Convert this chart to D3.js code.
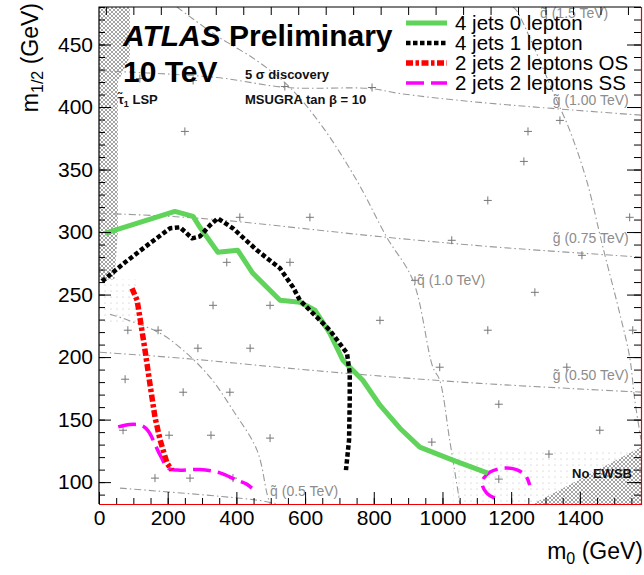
<!DOCTYPE html>
<html>
<head>
<meta charset="utf-8">
<script src="https://cdn.jsdelivr.net/npm/d3@7/dist/d3.min.js"></script>
<style>
  body { margin: 0; background: #fff; }
  svg { display: block; font-family: "Liberation Sans", Arial, sans-serif; }
  .grey-label { fill: #8c8c8c; font-size: 14px; }
  .note { font-weight: bold; font-size: 13px; fill: #111; }
</style>
</head>
<body>
<svg id="chart" width="644" height="575"></svg>
<script>
// all points are [m0, m1/2] in GeV
const jets4Lep0 = [
  [17, 299], [221, 316.5], [274, 312.6], [294, 303.8], [346, 283.8], [404, 285.4],
  [448, 267], [527, 245.4], [585, 243.8], [629, 237.4], [672, 219.1], [710, 197.5],
  [768, 181.5], [818, 161.5], [876, 143.1], [934, 128], [1030, 117.6], [1132, 107.2]
];
const jets4Lep1 = [
  [9, 260.6], [76, 275.8], [148, 291], [207, 303], [236, 303.8], [271, 295], [294, 296.6],
  [323, 305.4], [346, 311], [390, 303], [460, 285.4], [527, 271], [565, 255.8], [585, 245.4],
  [623, 235], [672, 221.5], [722, 203.1], [730, 187.1], [730, 165.5], [728, 133.6], [719, 109.6]
];
const jets2Lep2OS = [
  [96, 255], [111, 245.4], [119, 231.8], [134, 205.5], [148, 179.1], [163, 151.9],
  [178, 133.6], [198, 115.2], [212, 109.6]
];
const jets2Lep2SS = [
  [56, 144.2], [90, 146.1], [124, 145.3], [143, 141], [178, 121.6], [202, 110.9],
  [230, 109.6], [294, 110.1], [352, 107.4], [401, 101.6], [430, 98.4], [445, 95.2]
];
const jets2Lep2SSisland = [
  [1152, 87.2], [1129, 91.2], [1115, 100], [1138, 108], [1182, 111.2], [1219, 109.6],
  [1243, 104.8], [1254, 97.6]
];

// squark / gluino iso-mass contours
const squark05 = [[32, 234.3], [70, 231], [178, 219], [245, 205.5], [323, 184], [390, 157.5], [460, 125.6], [489, 91], [498, 82.5]];
const squark10 = [[227, 480], [337, 458], [460, 437], [556, 415.6], [652, 383.7], [751, 341], [838, 295.8], [914, 261.4], [972, 191.9], [992, 181.5], [1021, 133.6], [1051, 82.5]];
const squark15 = [[1205, 480], [1216, 477], [1333, 405], [1371, 381], [1420, 341], [1467, 288], [1516, 235], [1545, 200], [1560, 165.5], [1578, 134]];
const gluino100 = [[3, 429], [343, 423.6], [547, 415.6], [789, 414.8], [876, 410.8], [1109, 403.7], [1578, 393.5]];
const gluino075 = [[3, 315], [294, 311], [838, 295.8], [1164, 287.8], [1578, 280]];
const gluino050 = [[3, 203.9], [245, 199], [556, 191], [722, 187], [1109, 179], [1578, 172]];
const gluino025 = [[61, 95.2], [460, 85.6], [520, 82.5]];
const contours = [squark05, squark10, squark15, gluino100, gluino075, gluino050, gluino025];

const contourLabels = [
  { text: "q\u0303 (0.5 TeV)", at: [498, 88.8] },
  { text: "q\u0303 (1.0 TeV)", at: [926, 257.4] },
  { text: "q\u0303 (1.5 TeV)", at: [1284, 471.6] },
  { text: "g\u0303 (1.00 TeV)", at: [1321, 401.3] },
  { text: "g\u0303 (0.75 TeV)", at: [1321, 291] },
  { text: "g\u0303 (0.50 TeV)", at: [1321, 181.5] }
];

// scan points
const scanPoints = [
  [119, 422.8], [274, 421.2], [541, 416.4], [795, 415.6], [250, 380.5], [1249, 380.5],
  [1342, 389.3], [1237, 356.5], [1132, 325.3], [1545, 311.8], [1406, 281.4], [1269, 251.8],
  [1132, 221.5], [1554, 221.5], [1362, 191.9], [410, 311.8], [614, 311.8], [1027, 293.4],
  [372, 275.8], [556, 275.8], [332, 241.4], [498, 241.4], [818, 229.4], [920, 261.4],
  [440, 207.1], [992, 191.9], [84, 221.5], [172, 221.5], [288, 207.1], [76, 182.3],
  [245, 171.9], [381, 171.9], [70, 141.5], [204, 137.5], [326, 137.5], [498, 135.2],
  [163, 103.2], [265, 103.2], [390, 103.2], [1164, 162.3], [969, 132], [1458, 141.5],
  [1310, 122.4], [1164, 102.4]
];

const stauLSP = [[0, 480], [90, 480], [90, 440], [55, 420], [55, 300], [45, 262], [0, 262]];
const noEWSB = [[1263, 82.5], [1578, 82.5], [1578, 128]];
const dotsLeft = [[0, 262], [110, 262], [110, 228], [0, 228]];
const dotsRight = [[1030, 82.5], [1578, 82.5], [1578, 126], [1030, 126]];

const xMajor = [0, 200, 400, 600, 800, 1000, 1200, 1400];
const yMajor = [100, 150, 200, 250, 300, 350, 400, 450];

const legendItems = [
  { label: "4 jets 0 lepton", key: "l0" },
  { label: "4 jets 1 lepton", key: "l1" },
  { label: "2 jets 2 leptons OS", key: "os" },
  { label: "2 jets 2 leptons SS", key: "ss" }
];

const styles = {
  l0: { stroke: "#5fd35a", width: 5, dash: null },
  l1: { stroke: "#000", width: 4.5, dash: "4.5,2.5" },
  os: { stroke: "#ff0000", width: 5.5, dash: "7,2.5,3.5,2.5" },
  ss: { stroke: "#ff00ff", width: 3.5, dash: "18,7" }
};

const svg = d3.select("#chart");
const x = d3.scaleLinear().domain([0, 1578]).range([99, 641]);
const y = d3.scaleLinear().domain([82.5, 480]).range([504, 7]);

const defs = svg.append("defs");
defs.append("clipPath").attr("id", "plot-clip")
  .append("rect").attr("x", 99).attr("y", 7).attr("width", 542).attr("height", 497);

const hatch = defs.append("pattern").attr("id", "hatch")
  .attr("width", 4).attr("height", 4).attr("patternUnits", "userSpaceOnUse");
hatch.append("rect").attr("width", 4).attr("height", 4).attr("fill", "#fff");
hatch.append("path").attr("d", "M0,0L4,4M4,0L0,4").attr("stroke", "#9a9a9a").attr("stroke-width", 0.9);

const dots = defs.append("pattern").attr("id", "dots")
  .attr("width", 6).attr("height", 6).attr("patternUnits", "userSpaceOnUse");
dots.append("circle").attr("cx", 3).attr("cy", 3).attr("r", 0.6).attr("fill", "#b5b5b5");

const plot = svg.append("g").attr("clip-path", "url(#plot-clip)");
const area = d3.line().x(d => x(d[0])).y(d => y(d[1]));

plot.append("path").attr("d", area(dotsLeft) + "Z").attr("fill", "url(#dots)");
plot.append("path").attr("d", area(dotsRight) + "Z").attr("fill", "url(#dots)");
plot.append("path").attr("d", area(stauLSP) + "Z").attr("fill", "url(#hatch)");
plot.append("path").attr("d", area(noEWSB) + "Z").attr("fill", "url(#hatch)");

const curve = d3.line().x(d => x(d[0])).y(d => y(d[1])).curve(d3.curveCatmullRom);

plot.selectAll(".contour").data(contours).enter().append("path")
  .attr("class", "contour")
  .attr("d", curve)
  .attr("fill", "none")
  .attr("stroke", "#9a9a9a")
  .attr("stroke-width", 1.1)
  .attr("stroke-dasharray", "7,3,1.5,3");

plot.selectAll(".scan").data(scanPoints).enter().append("path")
  .attr("class", "scan")
  .attr("d", d => `M${x(d[0]) - 4},${y(d[1])}h8M${x(d[0])},${y(d[1]) - 4}v8`)
  .attr("stroke", "#777")
  .attr("stroke-width", 1);

plot.selectAll(".grey-label").data(contourLabels).enter().append("text")
  .attr("class", "grey-label")
  .attr("x", d => x(d.at[0]))
  .attr("y", d => y(d.at[1]))
  .text(d => d.text);

const straight = d3.line().x(d => x(d[0])).y(d => y(d[1]));
function drawCurve(data, key, gen) {
  const s = styles[key];
  plot.append("path")
    .attr("d", gen(data))
    .attr("fill", "none")
    .attr("stroke", s.stroke)
    .attr("stroke-width", s.width)
    .attr("stroke-dasharray", s.dash)
    .attr("stroke-linejoin", "round");
}
drawCurve(jets2Lep2SS, "ss", curve);
drawCurve(jets2Lep2SSisland, "ss", curve);
drawCurve(jets2Lep2OS, "os", straight);
drawCurve(jets4Lep0, "l0", straight);
drawCurve(jets4Lep1, "l1", straight);

// axes, ticks point inwards
function minorTicks(lo, hi, step) {
  return d3.range(lo, hi + 0.01, step);
}
svg.append("g").attr("transform", "translate(0,504)")
  .call(d3.axisBottom(x).tickValues(xMajor).tickSize(-12).tickPadding(6).tickFormat(d3.format("d")))
  .call(g => g.select(".domain").remove())
  .call(g => g.selectAll("text").attr("font-size", 21).attr("fill", "#000").attr("font-family", "Liberation Sans, Arial"));
svg.append("g").attr("transform", "translate(0,504)")
  .call(d3.axisBottom(x).tickValues(minorTicks(0, 1550, 50)).tickSize(-6).tickFormat(""))
  .call(g => g.select(".domain").remove());
// top axis ticks sit on a coarser, offset grid in the original
svg.append("g").attr("transform", "translate(0,7)")
  .call(d3.axisTop(x).tickValues(minorTicks(20, 1560, 80)).tickSize(-8).tickFormat(""))
  .call(g => g.select(".domain").remove());

svg.append("g").attr("transform", "translate(99,0)")
  .call(d3.axisLeft(y).tickValues(yMajor).tickSize(-12).tickPadding(6).tickFormat(d3.format("d")))
  .call(g => g.select(".domain").remove())
  .call(g => g.selectAll("text").attr("font-size", 21).attr("fill", "#000").attr("font-family", "Liberation Sans, Arial"));
svg.append("g").attr("transform", "translate(99,0)")
  .call(d3.axisLeft(y).tickValues(minorTicks(90, 480, 10)).tickSize(-6).tickFormat(""))
  .call(g => g.select(".domain").remove());
svg.append("g").attr("transform", "translate(641,0)")
  .call(d3.axisRight(y).tickValues(yMajor).tickSize(-14).tickFormat(""))
  .call(g => g.select(".domain").remove());
svg.append("g").attr("transform", "translate(641,0)")
  .call(d3.axisRight(y).tickValues(minorTicks(90, 480, 10)).tickSize(-7).tickFormat(""))
  .call(g => g.select(".domain").remove());

svg.selectAll(".tick line").attr("stroke", "#000");

// frame
svg.append("path").attr("d", "M99,504V7H641").attr("fill", "none").attr("stroke", "#000").attr("stroke-width", 1.2);
svg.append("path").attr("d", "M99,504.5H641.5V7").attr("fill", "none").attr("stroke", "#e00").attr("stroke-width", 1.2);

// axis titles
const xt = svg.append("text").attr("x", 643).attr("y", 559).attr("text-anchor", "end").attr("font-size", 23);
xt.append("tspan").text("m");
xt.append("tspan").attr("font-size", 16).attr("dy", 5).text("0");
xt.append("tspan").attr("dy", -5).text(" (GeV)");

const yt = svg.append("text").attr("transform", "translate(38,3) rotate(-90)").attr("text-anchor", "end").attr("font-size", 23);
yt.append("tspan").text("m");
yt.append("tspan").attr("font-size", 16).attr("dy", 5).text("1/2");
yt.append("tspan").attr("dy", -5).text(" (GeV)");

// labels
const atlas = svg.append("text").attr("x", 123).attr("y", 46).attr("font-size", 30).attr("font-weight", "bold");
atlas.append("tspan").attr("font-style", "italic").text("ATLAS");
atlas.append("tspan").text(" Preliminary");
svg.append("text").attr("x", 123).attr("y", 82).attr("font-size", 30).attr("font-weight", "bold").text("10 TeV");

svg.append("text").attr("class", "note").attr("x", 245).attr("y", 79).text("5 \u03c3 discovery");
svg.append("text").attr("class", "note").attr("x", 245).attr("y", 104).text("MSUGRA tan \u03b2 = 10");
const stau = svg.append("text").attr("class", "note").attr("x", 118).attr("y", 104);
stau.append("tspan").text("\u03c4\u0303");
stau.append("tspan").attr("font-size", 9).attr("dy", 3).text("1");
stau.append("tspan").attr("dy", -3).text(" LSP");
svg.append("text").attr("class", "note").attr("x", 572).attr("y", 478).attr("font-size", 13.5).text("No EWSB");

// legend
const legend = svg.append("g").selectAll("g").data(legendItems).enter().append("g")
  .attr("transform", (d, i) => `translate(406,${23 + i * 20})`);
legend.append("line")
  .attr("x1", 0).attr("x2", 41)
  .attr("stroke", d => styles[d.key].stroke)
  .attr("stroke-width", d => styles[d.key].width)
  .attr("stroke-dasharray", d => styles[d.key].dash);
legend.append("text")
  .attr("x", 49).attr("dy", "0.35em")
  .attr("font-size", 20.5)
  .text(d => d.label);
</script>
</body>
</html>
